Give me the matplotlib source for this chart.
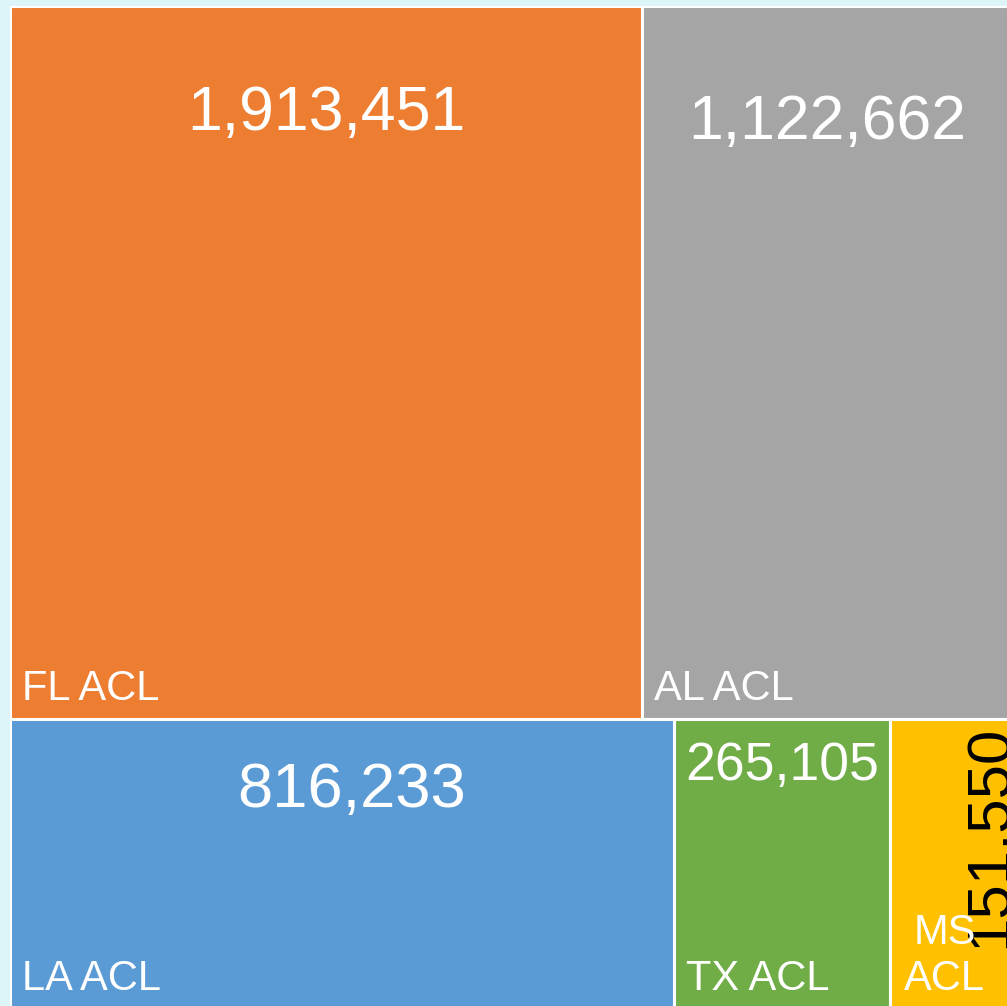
import matplotlib.pyplot as plt
from matplotlib.patches import Rectangle

plt.rcParams['font.family'] = ['Liberation Sans', 'DejaVu Sans']

# data
top_names = ["FL ACL", "AL ACL"]
top_values = [1913451, 1122662]
bottom_names = ["LA ACL", "TX ACL", "MS\nACL"]
bottom_values = [816233, 265105, 151550]
top_colors = ["#ED7D31", "#A5A5A5"]
bottom_colors = ["#5B9BD5", "#70AD47", "#FFC000"]

total = sum(top_values) + sum(bottom_values)

# treemap area in pixels (runs past the right and bottom edges of the image)
W, H = 1003.0, 1003.0
fig = plt.figure(figsize=(10.07, 10.06), dpi=100, facecolor="#DDF4F8")
ax = fig.add_axes([10 / 1007, 1 - (6 + H) / 1006, W / 1007, H / 1006])
ax.set_xlim(0, W)
ax.set_ylim(H, 0)
ax.axis("off")

top_h = H * sum(top_values) / total
bot_h = H - top_h

tiles = []
x = 0
for name, v, c in zip(top_names, top_values, top_colors):
    w = W * v / sum(top_values)
    tiles.append((name, v, c, x, 0, w, top_h))
    x += w
x = 0
for name, v, c in zip(bottom_names, bottom_values, bottom_colors):
    w = W * v / sum(bottom_values)
    tiles.append((name, v, c, x, top_h, w, bot_h))
    x += w

# value label settings per tile: (size, offset from top, color, rotation)
val_style = {
    "FL ACL": (45, 107, "white", 0),
    "AL ACL": (45, 116, "white", 0),
    "LA ACL": (45.5, 71, "white", 0),
    "TX ACL": (38.5, 47, "white", 0),
    "MS\nACL": (44.5, 117, "black", 90),
}

for name, v, c, x0, y0, w, h in tiles:
    ax.add_patch(Rectangle((x0, y0), w, h, facecolor=c, edgecolor="white", linewidth=2.2))
    size, off, col, rot = val_style[name]
    if rot:
        ax.text(x0 + 101, y0 + off, f"{v:,}", rotation=90, ha="center", va="center",
                fontsize=size, color=col)
        ax.text(x0 + 55, h + y0 - 19, name, ha="center", va="baseline",
                fontsize=30, color="white", linespacing=1.2)
    else:
        ax.text(x0 + w / 2 + (10 if name == "LA ACL" else 0), y0 + off, f"{v:,}",
                ha="center", va="center", fontsize=size, color=col)
        ax.text(x0 + 12, y0 + h - 19, name, ha="left", va="baseline",
                fontsize=30, color="white")

fig.savefig("out.png", dpi=100, facecolor=fig.get_facecolor())
